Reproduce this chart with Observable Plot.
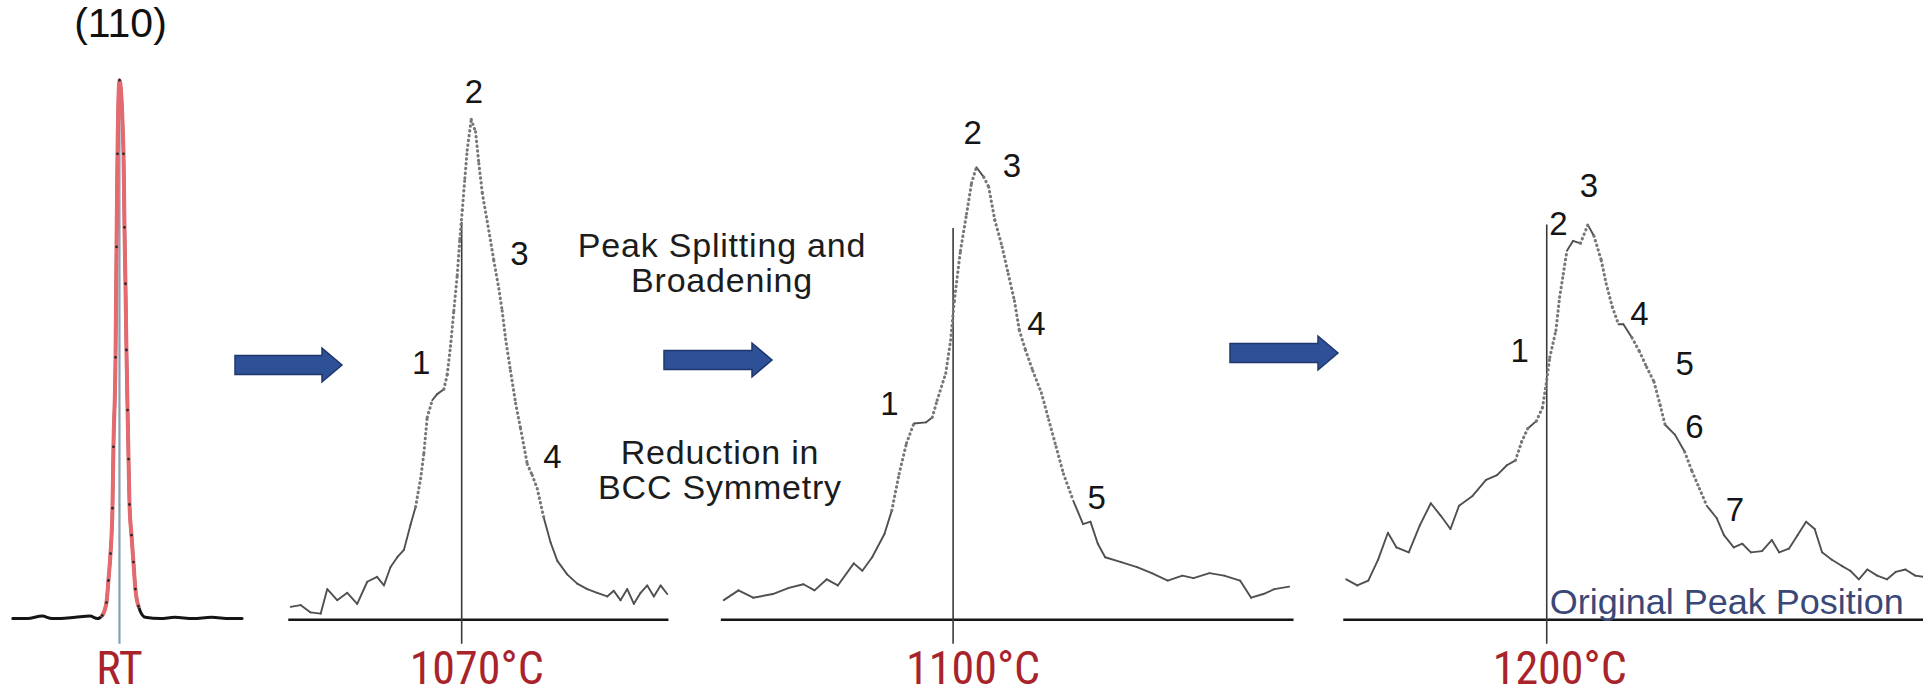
<!DOCTYPE html>
<html>
<head>
<meta charset="utf-8">
<script src="https://cdn.jsdelivr.net/npm/d3@7"></script>
<script src="https://cdn.jsdelivr.net/npm/@observablehq/plot@0.6"></script>
<style>
  body { margin: 0; background: #fff; }
  #fig { position: relative; width: 1923px; height: 699px; overflow: hidden; background: #fff;
         font-family: "Liberation Sans", Arial, sans-serif; }
  .panel { position: absolute; top: 0; }
  .note { position: absolute; color: #1c1c1c; font-size: 34px; letter-spacing: 0.8px; line-height: 35px;
          text-align: center; white-space: nowrap; transform: translateX(-50%); }
  #arrows { position: absolute; left: 0; top: 0; }
</style>
</head>
<body>
<div id="fig"></div>
<script>
// ---------------- data ----------------
// x: offset in 2θ from the original (110) peak position (arb. units, 1 unit ≈ 0.01°)
// y: diffracted intensity (a.u.)
const panelNames = ["RT", "1070°C", "1100°C", "1200°C"];

const rtX = [-87, -75, -63, -55, -48, -36, -24, -18, -14, -10.6, -9, -7.3, -5.7, -4.9, -3.2, -2.4, -1.6, 0,
             3.3, 4.1, 4.9, 5.7, 6.6, 7.4, 8.2, 9.8, 11.4, 13, 15.5, 21, 33.5, 45, 60, 75, 90, 100];
const rtI = [1, 1, 3, 1, 1, 2, 3, 1, 3.5, 14, 32, 54, 91, 141, 214, 304, 380, 440,
             380, 320, 274, 220, 171, 131, 94, 69, 47, 25, 11, 2, 1, 2, 1, 2, 1, 1];

const t1070X = [-139.5, -131.4, -123.2, -115, -109.6, -101.5, -93.3, -85.2, -77, -69, -63.4, -58, -52.5, -47.1,
                -41.7, -37.6, -33.5, -30.8, -28.1, -24, -20, -14.5, -11.8, -9.1, -6.4, -3.6, -1.5, 0.5, 2.6, 4.5,
                7.8, 11.3, 14, 16.8, 20.8, 26.2, 30.3, 33, 35.8, 39.8, 44, 48, 53.5, 57.5, 61.6, 67, 72.5, 78,
                86, 94.2, 102.4, 110.5, 118.7, 124, 129.5, 135, 140.4, 145.9, 151.3, 156.7, 162.2, 167.6];
const t1070I = [10.5, 12, 6, 5, 25, 16, 22, 13, 31, 35, 28, 43, 51, 57,
                77.5, 92, 115, 136, 165, 179, 184, 188, 200, 223, 252, 281, 310.5, 334, 360, 383,
                408, 398, 372, 348, 325, 293, 270, 252, 229, 203, 176.5, 156, 127, 118, 107, 83, 63, 48,
                37, 29.5, 25, 22, 19, 23.6, 16, 25, 13, 22, 28, 19, 28, 21];

const t1100X = [-187, -175, -163, -147, -134, -122, -113, -103, -94, -81, -74, -66, -56, -50, -44, -38, -32, -22,
                -17, -13, -6, -2, 1, 6, 11, 15, 19, 25, 29, 34, 40, 45, 50, 54, 59, 65, 72, 78, 84, 90, 98, 106,
                112, 118, 124, 137, 150, 162, 175, 187, 196, 209, 221, 234, 243, 253, 262, 274];
const t1100I = [16, 24, 18, 21, 26, 29, 24, 33, 28, 46, 40, 51, 70, 89, 119, 144, 160, 161,
                165, 179, 201, 228, 260, 301, 331, 356, 369, 361, 353, 326, 304, 282, 260, 236, 220, 203, 185, 163,
                141, 119, 97, 78, 80, 62, 51, 47, 43, 38, 32, 36, 34, 38, 36, 32, 18, 21, 25, 27];

const t1200X = [-163.5, -154.5, -145.5, -137.5, -129.5, -122.5, -112.5, -103.5, -94.5, -86.5, -78.5, -71.5, -60.5,
                -49.5, -40.5, -32.5, -25.5, -20.5, -15.5, -8.5, -3.5, -0.5, 2.5, 7.5, 10.5, 13.5, 16.5, 21.5, 27.5,
                33.5, 38.5, 44.5, 48.5, 53.5, 58.5, 62.5, 69.5, 75.5, 81.5, 87.5, 92.5, 96.5, 104.5, 112.5, 118.5,
                124.5, 130.5, 138.5, 144.5, 152.5, 159.5, 166.5, 175.5, 183.5, 189.5, 197.5, 204.5, 211.5, 218.5,
                224.5, 232.5, 240.5, 247.5, 254.5, 261.5, 269.5, 277.5, 284.5, 292.5, 300.5, 307.5];
const t1200I = [33, 28, 32, 49, 71, 59, 55, 77, 95, 85, 74, 93, 101,
                114, 118, 126, 130, 145, 156, 162, 173, 192, 214, 236, 263, 282, 301, 309, 307,
                322, 313, 293, 274, 255, 241, 241, 230, 219, 206, 194, 175, 159, 151, 137, 121,
                107, 93, 83, 69, 59, 62, 55, 56, 65, 55, 58, 69, 80, 74,
                55, 49, 44, 40, 33, 41, 36, 33, 39, 41, 36, 35];

// numbered sub-peak labels (position in the same x / intensity units)
const t1070LabelText = ["1", "2", "3", "4"];
const t1070LabelX = [-33, 10, 47, 74];
const t1070LabelI = [209, 430, 298, 132];

const t1100LabelText = ["1", "2", "3", "4", "5"];
const t1100LabelX = [-52, 16, 48, 68, 117];
const t1100LabelI = [176, 397, 370, 241, 99];

const t1200LabelText = ["1", "2", "3", "4", "5", "6", "7"];
const t1200LabelX = [-22, 9.5, 34.5, 75.5, 112.5, 120.5, 153.5];
const t1200LabelI = [219, 322, 353, 249, 208, 157, 89];

// extent of each pattern's 2θ axis and height of the reference (original-peak) line
const axisStart = [null, -141, -189, -165.5];
const axisEnd = [null, 169, 278, 307.5];
const refLineTop = [440, 324, 319, 322];
const refLineBottom = -20;

const hklLabel = "(110)";
const refLabel = "Original Peak Position";
const noteTop = ["Peak Splitting and", "Broadening"];
const noteBottom = ["Reduction in", "BCC Symmetry"];

// ---------------- layout ----------------
const K = 1923 / 1568;     // px per figure unit
const H = 699;
const yDomain = [-65, 505];
const fig = document.getElementById("fig");
const sans = "'Liberation Sans', Arial, sans-serif";
const narrow = "'Liberation Sans Narrow', 'Arial Narrow', 'Roboto Condensed', 'Liberation Sans', sans-serif";
const red = "#a8232a";

const layout = [
  {left: 0,    right: 212,  origin: 97,     nameDx: 0},
  {left: 225,  right: 556,  origin: 376,    nameDx: 15},
  {left: 580,  right: 1066, origin: 777,    nameDx: 20},
  {left: 1085, right: 1568, origin: 1260.5, nameDx: 13}
];

const rows = (xs, is) => xs.map((x, i) => ({x, y: is[i]}));
const lbls = (t, xs, is) => t.map((s, i) => ({s, x: xs[i], y: is[i]}));
// consecutive-point segments; steep high segments are sparse (dotted) in the scan
const segments = data => data.slice(1).map((d, i) => {
  const a = data[i];
  const steep = Math.abs(d.y - a.y) > 1.8 * Math.abs(d.x - a.x) && (d.y + a.y) / 2 > 90;
  return {x1: a.x, y1: a.y, x2: d.x, y2: d.y, steep};
});

const series = [rows(rtX, rtI), rows(t1070X, t1070I), rows(t1100X, t1100I), rows(t1200X, t1200I)];
const labelSets = [[], lbls(t1070LabelText, t1070LabelX, t1070LabelI),
                   lbls(t1100LabelText, t1100LabelX, t1100LabelI),
                   lbls(t1200LabelText, t1200LabelX, t1200LabelI)];

layout.forEach((L, p) => {
  const data = series[p];
  const marks = [];
  if (p === 0) {
    const peak = data.filter(d => Math.abs(d.x) <= 16);
    marks.push(
      Plot.ruleX([0], {y1: refLineBottom, y2: refLineTop[p], stroke: "#86a2b0", strokeWidth: 2.2}),
      Plot.line(data, {x: "x", y: "y", stroke: "#151515", strokeWidth: 3, curve: "monotone-x"}),
      Plot.line(peak, {x: "x", y: "y", stroke: "#e56a70", strokeWidth: 4, curve: "monotone-x"}),
      Plot.dot(peak, {x: "x", y: "y", r: 1.4, fill: "#2a2a2a"}),
      Plot.text([hklLabel], {x: () => 0, y: () => 486, text: d => d, dx: 1, fontSize: 41,
                             fontFamily: sans, fill: "#111", lineAnchor: "middle"})
    );
  } else {
    const segs = segments(data);
    marks.push(
      Plot.ruleY([0], {x1: axisStart[p], x2: axisEnd[p], stroke: "#161616", strokeWidth: 2.6}),
      Plot.ruleX([0], {y1: refLineBottom, y2: refLineTop[p], stroke: "#3a3a3a", strokeWidth: 1.6}),
      Plot.link(segs.filter(s => !s.steep), {x1: "x1", y1: "y1", x2: "x2", y2: "y2",
                stroke: "#505050", strokeWidth: 1.9, strokeLinecap: "round"}),
      Plot.link(segs.filter(s => s.steep), {x1: "x1", y1: "y1", x2: "x2", y2: "y2",
                stroke: "#777", strokeWidth: 3.1, strokeDasharray: "0.4,4.4", strokeLinecap: "round"}),
      Plot.text(labelSets[p], {x: "x", y: "y", text: "s", fontSize: 33, fontFamily: sans,
                               fill: "#151515", lineAnchor: "middle"})
    );
    if (p === 3) {
      marks.push(Plot.text([refLabel], {x: () => 0, y: () => 5, text: d => d, dx: 3, textAnchor: "start",
                                        lineAnchor: "bottom", fontSize: 36, fontFamily: sans, fill: "#3a4878"}));
    }
  }
  marks.push(Plot.text([panelNames[p]], {x: () => 0, text: d => d, frameAnchor: "bottom", lineAnchor: "bottom",
                                          dy: -15, dx: L.nameDx, fontSize: 46, fontFamily: narrow, fill: red}));

  const chart = Plot.plot({
    width: (L.right - L.left) * K,
    height: H,
    margin: 0,
    x: {domain: [L.left - L.origin, L.right - L.origin], axis: null},
    y: {domain: yDomain, axis: null},
    style: {overflow: "visible", background: "transparent", fontFamily: sans},
    marks
  });
  chart.classList.add("panel");
  chart.style.left = (L.left * K) + "px";
  fig.appendChild(chart);
});

// ---------------- block arrows and notes ----------------
const arrowX1 = [235, 664, 1230], arrowX2 = [342, 772, 1338], arrowY = [365, 360, 353];
const ns = "http://www.w3.org/2000/svg";
const asvg = document.createElementNS(ns, "svg");
asvg.setAttribute("id", "arrows");
asvg.setAttribute("width", 1923);
asvg.setAttribute("height", 699);
arrowX1.forEach((x1, i) => {
  const x2 = arrowX2[i], y = arrowY[i], b = 9.5, h = 17, hl = 20;
  const pts = [[x1, y - b], [x2 - hl, y - b], [x2 - hl, y - h], [x2, y], [x2 - hl, y + h], [x2 - hl, y + b], [x1, y + b]];
  const poly = document.createElementNS(ns, "polygon");
  poly.setAttribute("points", pts.map(q => q.join(",")).join(" "));
  poly.setAttribute("fill", "#2e5097");
  poly.setAttribute("stroke", "#1f366c");
  poly.setAttribute("stroke-width", 1.5);
  asvg.appendChild(poly);
});
fig.appendChild(asvg);

function note(lines, cx, top) {
  const d = document.createElement("div");
  d.className = "note";
  d.style.left = cx + "px";
  d.style.top = top + "px";
  d.innerHTML = lines.join("<br>");
  fig.appendChild(d);
}
note(noteTop, 722, 228);
note(noteBottom, 720, 435);
</script>
</body>
</html>
